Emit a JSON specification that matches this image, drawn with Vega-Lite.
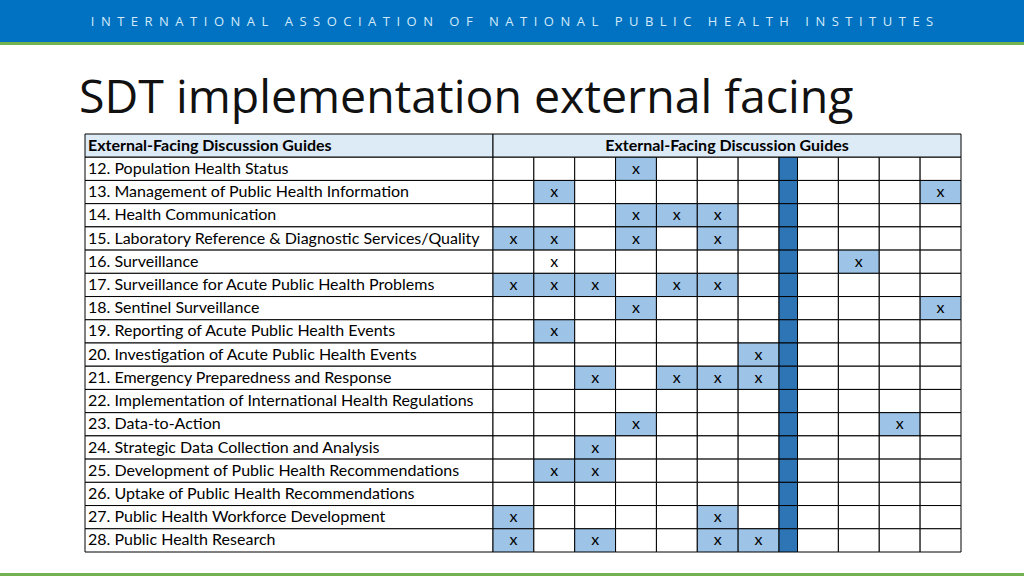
{
  "$schema": "https://vega.github.io/schema/vega-lite/v6.json",
  "width": 1024,
  "height": 576,
  "padding": 0,
  "autosize": {"type": "none"},
  "background": "#ffffff",
  "config": {"view": {"stroke": null}},
  "datasets": {
    "page": [
      {"org": "INTERNATIONAL ASSOCIATION OF NATIONAL PUBLIC HEALTH INSTITUTES", "title": "SDT implementation external facing"}
    ],
    "header": [
      {"guide": "External-Facing Discussion Guides", "heading": "External-Facing Discussion Guides"}
    ],
    "guides": [
      {"guide": "12. Population Health Status", "c4": "x"},
      {"guide": "13. Management of Public Health Information", "c2": "x", "c11": "x"},
      {"guide": "14. Health Communication", "c4": "x", "c5": "x", "c6": "x"},
      {"guide": "15. Laboratory Reference & Diagnostic Services/Quality", "c1": "x", "c2": "x", "c4": "x", "c6": "x"},
      {"guide": "16. Surveillance", "c2": "x", "c9": "x", "unshaded": "c2"},
      {"guide": "17. Surveillance for Acute Public Health Problems", "c1": "x", "c2": "x", "c3": "x", "c5": "x", "c6": "x"},
      {"guide": "18. Sentinel Surveillance", "c4": "x", "c11": "x"},
      {"guide": "19. Reporting of Acute Public Health Events", "c2": "x"},
      {"guide": "20. Investigation of Acute Public Health Events", "c7": "x"},
      {"guide": "21. Emergency Preparedness and Response", "c3": "x", "c5": "x", "c6": "x", "c7": "x"},
      {"guide": "22. Implementation of International Health Regulations"},
      {"guide": "23. Data-to-Action", "c4": "x", "c10": "x"},
      {"guide": "24. Strategic Data Collection and Analysis", "c3": "x"},
      {"guide": "25. Development of Public Health Recommendations", "c2": "x", "c3": "x"},
      {"guide": "26. Uptake of Public Health Recommendations"},
      {"guide": "27. Public Health Workforce Development", "c1": "x", "c6": "x"},
      {"guide": "28. Public Health Research", "c1": "x", "c3": "x", "c6": "x", "c7": "x"}
    ]
  },
  "resolve": {"scale": {"x": "independent", "y": "independent"}},
  "layer": [
    {
      "data": {"name": "page"},
      "resolve": {"scale": {"x": "independent", "y": "independent"}},
      "layer": [
        {
          "mark": {"type": "rect", "fill": "#72b250"},
          "encoding": {
            "x": {"datum": "page", "type": "nominal", "scale": {"type": "band", "domain": ["page"], "range": [0, 1024], "paddingInner": 0, "paddingOuter": 0}, "axis": null},
            "y": {"datum": "top", "type": "nominal", "scale": {"type": "band", "domain": ["top"], "range": [0, 45], "paddingInner": 0, "paddingOuter": 0}, "axis": null}
          }
        },
        {
          "mark": {"type": "rect", "fill": "#0072c1"},
          "encoding": {
            "x": {"datum": "page", "type": "nominal", "scale": {"type": "band", "domain": ["page"], "range": [0, 1024], "paddingInner": 0, "paddingOuter": 0}, "axis": null},
            "y": {"datum": "banner", "type": "nominal", "scale": {"type": "band", "domain": ["banner"], "range": [0, 42], "paddingInner": 0, "paddingOuter": 0}, "axis": null}
          }
        },
        {
          "mark": {"type": "rect", "fill": "#72b250"},
          "encoding": {
            "x": {"datum": "page", "type": "nominal", "scale": {"type": "band", "domain": ["page"], "range": [0, 1024], "paddingInner": 0, "paddingOuter": 0}, "axis": null},
            "y": {"datum": "footer", "type": "nominal", "scale": {"type": "band", "domain": ["footer"], "range": [573, 576], "paddingInner": 0, "paddingOuter": 0}, "axis": null}
          }
        },
        {
          "transform": [{"calculate": "replace(datum.org, regexp('(.)', 'g'), '$1\u2002')", "as": "spaced"}],
          "mark": {"type": "text", "font": "Open Sans", "fontSize": 13, "fill": "#d4eafa", "align": "center", "baseline": "alphabetic"},
          "encoding": {
            "x": {"datum": "page", "type": "nominal", "scale": {"type": "band", "domain": ["page"], "range": [0, 1024], "paddingInner": 0, "paddingOuter": 0}, "axis": null},
            "y": {"datum": "banner", "type": "nominal", "bandPosition": 1, "scale": {"type": "band", "domain": ["banner"], "range": [0, 26], "paddingInner": 0, "paddingOuter": 0}, "axis": null},
            "text": {"field": "spaced"}
          }
        },
        {
          "mark": {"type": "text", "font": "Open Sans", "fontSize": 46.5, "fill": "#111111", "align": "left", "baseline": "alphabetic"},
          "encoding": {
            "x": {"datum": "title", "type": "nominal", "bandPosition": 0, "scale": {"type": "band", "domain": ["title"], "range": [79, 1024], "paddingInner": 0, "paddingOuter": 0}, "axis": null},
            "y": {"datum": "title", "type": "nominal", "bandPosition": 1, "scale": {"type": "band", "domain": ["title"], "range": [60, 113], "paddingInner": 0, "paddingOuter": 0}, "axis": null},
            "text": {"field": "title"}
          }
        }
      ]
    },
    {
      "encoding": {
        "y": {
          "field": "guide", "type": "nominal", "axis": null,
          "scale": {
            "type": "band", "range": [134, 552], "paddingInner": 0, "paddingOuter": 0,
            "domain": [
              "External-Facing Discussion Guides",
              "12. Population Health Status",
              "13. Management of Public Health Information",
              "14. Health Communication",
              "15. Laboratory Reference & Diagnostic Services/Quality",
              "16. Surveillance",
              "17. Surveillance for Acute Public Health Problems",
              "18. Sentinel Surveillance",
              "19. Reporting of Acute Public Health Events",
              "20. Investigation of Acute Public Health Events",
              "21. Emergency Preparedness and Response",
              "22. Implementation of International Health Regulations",
              "23. Data-to-Action",
              "24. Strategic Data Collection and Analysis",
              "25. Development of Public Health Recommendations",
              "26. Uptake of Public Health Recommendations",
              "27. Public Health Workforce Development",
              "28. Public Health Research"
            ]
          }
        }
      },
      "resolve": {"scale": {"x": "independent"}},
      "layer": [
        {
          "encoding": {
            "x": {"datum": "label", "type": "nominal", "scale": {"type": "band", "domain": ["label"], "range": [85, 493], "paddingInner": 0, "paddingOuter": 0}, "axis": null}
          },
          "layer": [
            {
              "data": {"name": "header"},
              "mark": {"type": "rect", "fill": "#ddebf7", "stroke": "#000000", "strokeWidth": 1}
            },
            {
              "data": {"name": "guides"},
              "mark": {"type": "rect", "fill": "#ffffff", "stroke": "#000000", "strokeWidth": 1}
            },
            {
              "data": {"name": "header"},
              "mark": {"type": "text", "font": "Lato", "fontSize": 16, "fontWeight": "bold", "fill": "#000000", "align": "left", "baseline": "middle", "dx": 3},
              "encoding": {
                "x": {"datum": "label", "type": "nominal", "bandPosition": 0, "scale": {"type": "band", "domain": ["label"], "range": [85, 493], "paddingInner": 0, "paddingOuter": 0}, "axis": null},
                "text": {"field": "heading"}
              }
            },
            {
              "data": {"name": "guides"},
              "mark": {"type": "text", "font": "Lato", "fontSize": 16, "fill": "#000000", "align": "left", "baseline": "middle", "dx": 3},
              "encoding": {
                "x": {"datum": "label", "type": "nominal", "bandPosition": 0, "scale": {"type": "band", "domain": ["label"], "range": [85, 493], "paddingInner": 0, "paddingOuter": 0}, "axis": null},
                "text": {"field": "guide"}
              }
            }
          ]
        },
        {
          "data": {"name": "header"},
          "encoding": {
            "x": {"datum": "guides", "type": "nominal", "scale": {"type": "band", "domain": ["guides"], "range": [493, 961], "paddingInner": 0, "paddingOuter": 0}, "axis": null}
          },
          "layer": [
            {"mark": {"type": "rect", "fill": "#ddebf7", "stroke": "#000000", "strokeWidth": 1}},
            {
              "mark": {"type": "text", "font": "Lato", "fontSize": 16, "fontWeight": "bold", "fill": "#000000", "align": "center", "baseline": "middle"},
              "encoding": {"text": {"field": "heading"}}
            }
          ]
        },
        {
          "data": {"name": "guides"},
          "transform": [{"fold": ["c1", "c2", "c3", "c4", "c5", "c6", "c7"], "as": ["key", "value"]}],
          "encoding": {
            "x": {"field": "key", "type": "nominal", "scale": {"type": "band", "domain": ["c1", "c2", "c3", "c4", "c5", "c6", "c7"], "range": [493, 779], "paddingInner": 0, "paddingOuter": 0}, "axis": null}
          },
          "layer": [
            {
              "mark": {"type": "rect", "stroke": "#000000", "strokeWidth": 1},
              "encoding": {
                "fill": {"condition": {"test": "datum.value === 'x' && datum.key !== datum.unshaded", "value": "#9dc3e6"}, "value": "#ffffff"}
              }
            },
            {
              "transform": [{"filter": "isValid(datum.value)"}],
              "mark": {"type": "text", "font": "Lato", "fontSize": 16, "fill": "#000000", "align": "center", "baseline": "middle"},
              "encoding": {"text": {"field": "value"}}
            }
          ]
        },
        {
          "data": {"name": "guides"},
          "mark": {"type": "rect", "fill": "#2e75b6", "stroke": "#000000", "strokeWidth": 1},
          "encoding": {
            "x": {"datum": "divider", "type": "nominal", "scale": {"type": "band", "domain": ["divider"], "range": [779, 797.5], "paddingInner": 0, "paddingOuter": 0}, "axis": null}
          }
        },
        {
          "data": {"name": "guides"},
          "transform": [{"fold": ["c8", "c9", "c10", "c11"], "as": ["key", "value"]}],
          "encoding": {
            "x": {"field": "key", "type": "nominal", "scale": {"type": "band", "domain": ["c8", "c9", "c10", "c11"], "range": [797.5, 961], "paddingInner": 0, "paddingOuter": 0}, "axis": null}
          },
          "layer": [
            {
              "mark": {"type": "rect", "stroke": "#000000", "strokeWidth": 1},
              "encoding": {
                "fill": {"condition": {"test": "datum.value === 'x' && datum.key !== datum.unshaded", "value": "#9dc3e6"}, "value": "#ffffff"}
              }
            },
            {
              "transform": [{"filter": "isValid(datum.value)"}],
              "mark": {"type": "text", "font": "Lato", "fontSize": 16, "fill": "#000000", "align": "center", "baseline": "middle"},
              "encoding": {"text": {"field": "value"}}
            }
          ]
        }
      ]
    }
  ]
}
